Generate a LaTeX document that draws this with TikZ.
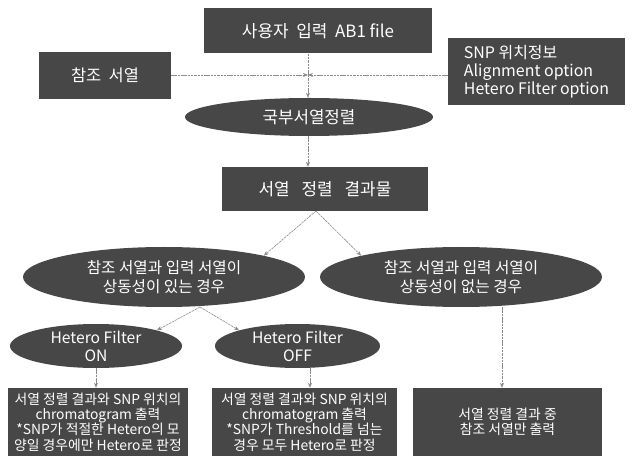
\documentclass[tikz,border=0pt]{standalone}
\usepackage{fontspec}
\setmainfont{Noto Sans CJK KR}
\usetikzlibrary{shapes.geometric,arrows.meta}
\definecolor{boxfill}{HTML}{474747}
\definecolor{linecol}{HTML}{8A8A8A}
\newcommand{\wsp}{\hspace{0.45em}}
\tikzset{
  box/.style={rectangle, fill=boxfill, text=white, inner sep=2pt, align=center, font=\fontsize{16}{18}\selectfont},
  oval/.style={ellipse, fill=boxfill, text=white, inner sep=0pt, align=center, font=\fontsize{15.7}{19}\selectfont},
  smalltext/.style={font=\fontsize{13.9}{15.5}\selectfont},
  conn/.style={draw=linecol, line width=0.6pt, dash pattern=on 2.5pt off 0.8pt},
  arr/.style={conn, -{Stealth[length=5pt,width=4pt]}},
}
\begin{document}
\begin{tikzpicture}[x=1bp,y=-1bp]
\useasboundingbox (0,0) rectangle (633,456);
\node[box, minimum width=228bp, minimum height=45bp, font=\fontsize{17}{18}\selectfont] (top) at (318,31) {사용자\wsp 입력\wsp AB1 file};
\node[box, minimum width=132bp, minimum height=47bp, font=\fontsize{16.5}{18}\selectfont] (ref) at (105,75.5) {참조\wsp 서열};
\node[box, minimum width=177bp, minimum height=67bp, align=left, font=\fontsize{16}{18}\selectfont] (opt) at (536.5,71.5) {SNP 위치정보\\Alignment option\\Hetero Filter option};
\coordinate (J) at (308,75);
\node[oval, minimum width=248bp, minimum height=38bp, font=\fontsize{16.9}{19}\selectfont] (local) at (309,117) {국부서열정렬};
\node[box, minimum width=206bp, minimum height=44bp, font=\fontsize{17}{18}\selectfont] (res) at (325,189) {서열\hspace{0.7em}정렬\hspace{0.7em}결과물};
\node[oval, minimum width=282bp, minimum height=60bp] (yes) at (164,277) {참조 서열과 입력 서열이\\상동성이 있는 경우};
\node[oval, minimum width=282bp, minimum height=60bp] (no) at (461,277) {참조 서열과 입력 서열이\\상동성이 없는 경우};
\node[oval, minimum width=172bp, minimum height=44bp, font=\fontsize{15.7}{18}\selectfont] (on) at (96,346) {Hetero Filter\\ON};
\node[oval, minimum width=165bp, minimum height=44bp, font=\fontsize{15.7}{18}\selectfont] (off) at (297.5,346) {Hetero Filter\\OFF};
\node[box, smalltext, minimum width=180bp, minimum height=68bp] (onres) at (98,422) {서열 정렬 결과와 SNP 위치의\\chromatogram 출력\\*SNP가 적절한 Hetero의 모\\양일 경우에만 Hetero로 판정};
\node[box, smalltext, minimum width=185bp, minimum height=68bp] (offres) at (304.5,422) {서열 정렬 결과와 SNP 위치의\\chromatogram 출력\\*SNP가 Threshold를 넘는\\경우 모두 Hetero로 판정};
\node[box, smalltext, minimum width=189bp, minimum height=68bp] (nores) at (507.5,422) {서열 정렬 결과 중\\참조 서열만 출력};
\coordinate (R) at (316,211);
\coordinate (Y) at (200,307);
\coordinate (Xoff) at (310,0);
\coordinate (Xno) at (502,0);
% connectors
\draw[arr] (ref.east |- J) -- (J);
\draw[arr] (opt.west |- J) -- (J);
\draw[conn] (top.south -| J) -- (J);
\draw[arr] (J) -- (local.north -| J);
\draw[arr] (local.south -| J) -- (res.north -| J);
\draw[arr] (R) -- (yes.north east);
\draw[arr] (R) -- (no.north west);
\draw[arr] (Y) -- (on.north east);
\draw[arr] (Y) -- (off.north west);
\draw[arr] (on.south) -- (onres.north -| on.south);
\draw[arr] (off.south -| Xoff) -- (offres.north -| Xoff);
\draw[arr] (no.south -| Xno) -- (nores.north -| Xno);
\end{tikzpicture}
\end{document}
